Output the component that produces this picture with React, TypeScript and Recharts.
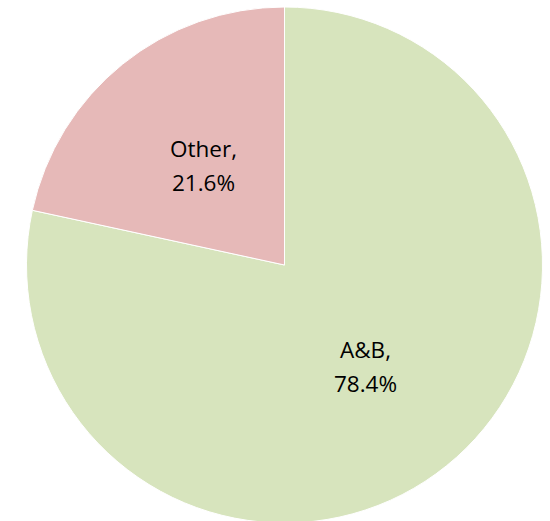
import { PieChart, Pie, Cell } from "recharts";

const categories = ["A&B", "Other"];
const shares = [78.4, 21.6];
const colors = ["#D7E4BD", "#E6B9B8"];

const data = categories.map((name, i) => ({ name, value: shares[i] }));

const RADIAN = Math.PI / 180;

function renderLabel(props: any) {
  const { cx, cy, midAngle, outerRadius, name, value } = props;
  const r = outerRadius * 0.5;
  const x = cx + r * Math.cos(-midAngle * RADIAN);
  const y = cy + r * Math.sin(-midAngle * RADIAN);
  return (
    <text
      x={x}
      y={y}
      textAnchor="middle"
      fill="#000"
      fontFamily="'Open Sans', sans-serif"
      fontSize={22.5}
    >
      <tspan x={x} dy="-0.35em">{name},</tspan>
      <tspan x={x} dy="1.52em">{value.toFixed(1)}%</tspan>
    </text>
  );
}

export default function App() {
  return (
    <div style={{ position: "absolute", left: 0, top: 0, width: 550, height: 521, background: "#fff" }}>
      <PieChart width={550} height={521} margin={{ top: 0, right: 0, bottom: 0, left: 0 }}>
        <Pie
          data={data}
          dataKey="value"
          nameKey="name"
          cx={284.5}
          cy={265}
          outerRadius={258}
          startAngle={90}
          endAngle={-270}
          stroke="#fff"
          strokeWidth={1}
          label={renderLabel}
          labelLine={false}
          isAnimationActive={false}
        >
          {data.map((d, i) => (
            <Cell key={d.name} fill={colors[i]} />
          ))}
        </Pie>
      </PieChart>
    </div>
  );
}
